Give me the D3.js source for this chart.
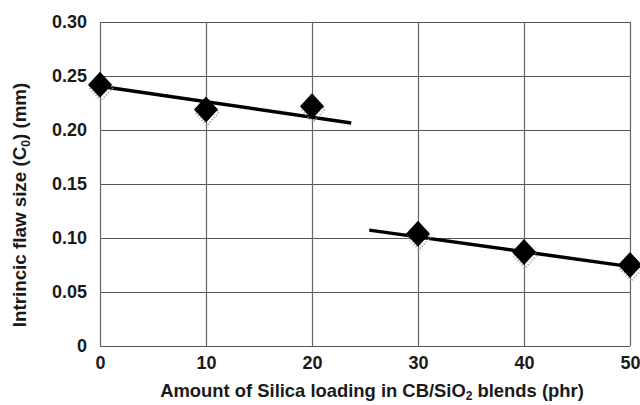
<!DOCTYPE html>
<html>
<head>
<meta charset="utf-8">
<script src="https://cdn.jsdelivr.net/npm/d3@7"></script>
<style>
  body { margin: 0; background: #fff; }
  text { font-family: "Liberation Sans", Arial, sans-serif; font-weight: bold; }
</style>
</head>
<body>
<div id="chart"></div>
<script>
var svgWidth = 640;
var svgHeight = 405;

var margin = { top: 22, right: 10, bottom: 59, left: 100 };
var width = 630 - margin.left;
var height = 346 - margin.top;

// data
var silica = [0, 10, 20, 30, 40, 50];
var flawSize = [0.242, 0.219, 0.222, 0.104, 0.087, 0.075];
// trend lines (start/end) for the two regimes
var trendLowX = [0, 23.7];
var trendLowY = [0.2405, 0.2065];
var trendHighX = [25.4, 50];
var trendHighY = [0.1073, 0.0735];

var xTicks = [0, 10, 20, 30, 40, 50];
var yTicks = [0, 0.05, 0.10, 0.15, 0.20, 0.25, 0.30];

var svg = d3.select("#chart")
  .append("svg")
  .attr("width", svgWidth)
  .attr("height", svgHeight);

var chartGroup = svg.append("g")
  .attr("transform", `translate(${margin.left}, ${margin.top})`);

var xScale = d3.scaleLinear().domain([0, 50]).range([0, width]);
var yScale = d3.scaleLinear().domain([0, 0.30]).range([height, 0]);

// grid
chartGroup.selectAll(".hgrid")
  .data(yTicks)
  .enter()
  .append("line")
  .attr("x1", 0)
  .attr("x2", width)
  .attr("y1", d => Math.round(yScale(d)) + 0.5)
  .attr("y2", d => Math.round(yScale(d)) + 0.5)
  .attr("stroke", "#555")
  .attr("stroke-width", 1.2);

chartGroup.selectAll(".vgrid")
  .data(xTicks)
  .enter()
  .append("line")
  .attr("x1", d => Math.round(xScale(d)) + 0.5)
  .attr("x2", d => Math.round(xScale(d)) + 0.5)
  .attr("y1", 0)
  .attr("y2", height)
  .attr("stroke", "#666")
  .attr("stroke-width", 1.2);

// axes (labels only)
var bottomAxis = d3.axisBottom(xScale).tickValues(xTicks).tickSize(0).tickPadding(10);
var leftAxis = d3.axisLeft(yScale).tickValues(yTicks).tickSize(0).tickPadding(13)
  .tickFormat(d => d === 0 ? "0" : d3.format(".2f")(d));

var xAxisGroup = chartGroup.append("g")
  .attr("transform", `translate(0, ${height})`)
  .call(bottomAxis);
var yAxisGroup = chartGroup.append("g")
  .call(leftAxis);

[xAxisGroup, yAxisGroup].forEach(function(g) {
  g.select(".domain").remove();
  g.selectAll("text")
    .style("font-size", "18px")
    .style("font-weight", "bold")
    .attr("fill", "#1a1a1a");
});

// trend lines
var line = d3.line()
  .x(d => xScale(d[0]))
  .y(d => yScale(d[1]));

chartGroup.append("path")
  .datum(d3.zip(trendLowX, trendLowY))
  .attr("d", line)
  .attr("fill", "none")
  .attr("stroke", "#000")
  .attr("stroke-width", 3.5);

chartGroup.append("path")
  .datum(d3.zip(trendHighX, trendHighY))
  .attr("d", line)
  .attr("fill", "none")
  .attr("stroke", "#000")
  .attr("stroke-width", 3.5);

// diamonds with speckled shadow
var points = d3.zip(silica, flawSize);
var diamond = "M0,-13 L12,0 L0,13 L-12,0 Z";

chartGroup.selectAll(".shadow")
  .data(points)
  .enter()
  .append("path")
  .attr("d", diamond)
  .attr("transform", d => `translate(${xScale(d[0]) + 1}, ${yScale(d[1]) + 3})`)
  .attr("fill", "none")
  .attr("stroke", "#999")
  .attr("stroke-width", 2)
  .attr("stroke-dasharray", "1,2");

chartGroup.selectAll(".marker")
  .data(points)
  .enter()
  .append("path")
  .attr("d", diamond)
  .attr("transform", d => `translate(${xScale(d[0])}, ${yScale(d[1])})`)
  .attr("fill", "#000");

// axis titles
var xTitle = svg.append("text")
  .attr("x", 372)
  .attr("y", 397)
  .attr("text-anchor", "middle")
  .style("font-size", "18.4px")
  .attr("fill", "#1a1a1a");
xTitle.append("tspan").text("Amount of Silica loading in CB/SiO");
xTitle.append("tspan").attr("dy", 3).style("font-size", "12px").text("2");
xTitle.append("tspan").attr("dy", -3).text(" blends (phr)");

var yTitle = svg.append("text")
  .attr("transform", "translate(26, 205) rotate(-90)")
  .attr("text-anchor", "middle")
  .style("font-size", "18.8px")
  .attr("fill", "#1a1a1a");
yTitle.append("tspan").text("Intrincic flaw size (C");
yTitle.append("tspan").attr("dy", 4).style("font-size", "12px").text("0");
yTitle.append("tspan").attr("dy", -4).text(") (mm)");
</script>
</body>
</html>
